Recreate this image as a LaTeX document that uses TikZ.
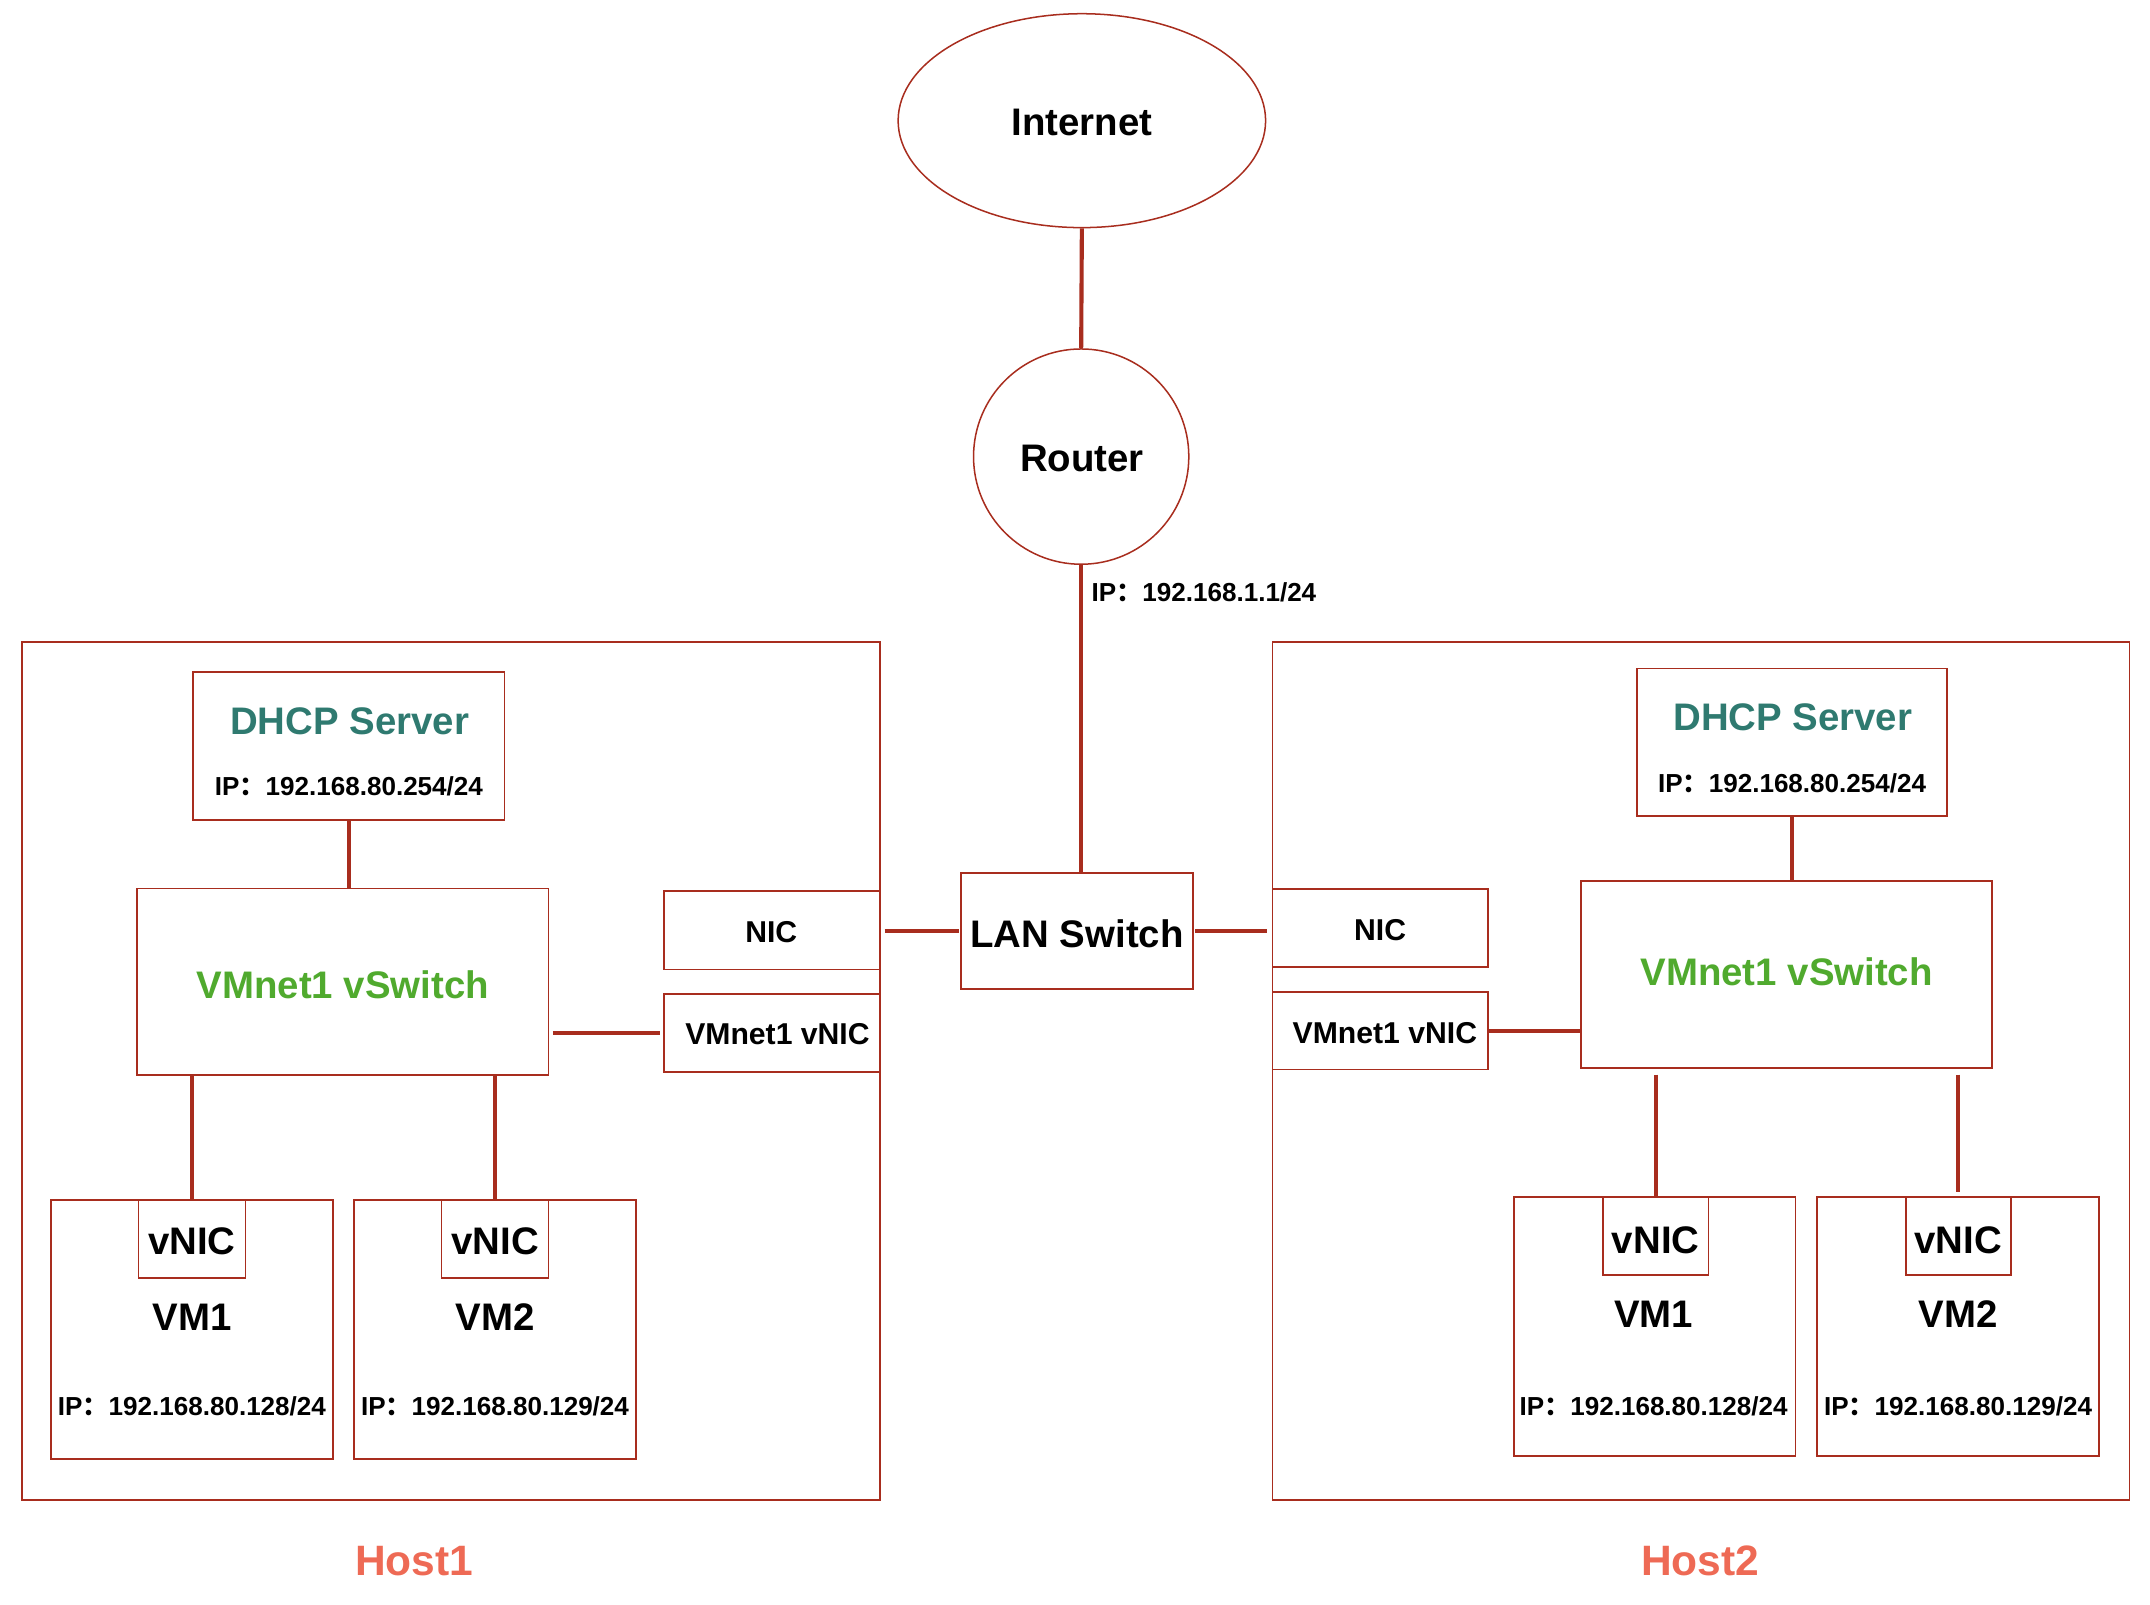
\documentclass[tikz,border=0pt]{standalone}
\usepackage{fontspec}
\setmainfont{Liberation Sans}
\newfontfamily\cjk{Noto Sans CJK SC}
\usetikzlibrary{fit,shapes.geometric}
\definecolor{bc}{RGB}{168,45,30}
\definecolor{teal}{RGB}{47,122,112}
\definecolor{vgreen}{RGB}{80,170,46}
\definecolor{coral}{RGB}{238,106,85}
\newcommand{\ipc}{{\cjk\bfseries ：}}
\tikzset{
  bx/.style={draw=bc, line width=1.3pt, inner sep=0pt, rectangle},
  conn/.style={draw=bc, line width=3pt},
  big/.style={font=\fontsize{28}{32}\selectfont\bfseries, anchor=base, inner sep=0pt},
  mid/.style={font=\fontsize{22}{26}\selectfont\bfseries, anchor=base, inner sep=0pt},
  sml/.style={font=\fontsize{19}{22}\selectfont\bfseries, anchor=base, inner sep=0pt},
  hostl/.style={font=\fontsize{31}{35}\selectfont\bfseries, text=coral, anchor=base, inner sep=0pt},
}
\newcommand{\bxn}[5]{\node[bx, fit={(#2,#3)(#4,#5)}] (#1) {};}
\begin{document}
\begin{tikzpicture}[x=1pt,y=-1pt]
\useasboundingbox (0,0) rectangle (1568,1169.8);
% top
\node[draw=bc, line width=1.1pt, ellipse, minimum width=268pt, minimum height=156pt, inner sep=0pt] (inet) at (789,88) {};
\node[draw=bc, line width=1.1pt, circle, minimum size=157pt, inner sep=0pt] (router) at (788.5,333) {};
\node[big] (tinet) at (789,99) {Internet};
\node[big] (trouter) at (789,344) {Router};
\node[sml, anchor=base west] (trip) at (796,439) {IP\ipc 192.168.1.1/24};
\bxn{lan}{701}{636.5}{870}{721}
\node[big] (tlan) at (785.5,691) {LAN Switch};
% hosts
\bxn{host1}{16}{468}{641.5}{1094}
\bxn{host2}{928}{468}{1553}{1094}
\node[hostl] (thost1) at (302,1149) {Host1};
\node[hostl] (thost2) at (1240,1149) {Host2};
% host1 inner
\bxn{dhcp1}{141}{490}{368}{598}
\node[big, text=teal] (tdhcp1) at (255,536) {DHCP Server};
\node[sml] (tdip1) at (254.5,580) {IP\ipc 192.168.80.254/24};
\bxn{vsw1}{100}{648}{400}{784}
\node[big, text=vgreen] (tvsw1) at (250,728) {VMnet1 vSwitch};
\bxn{nic1}{484}{650}{641.5}{707}
\node[mid] (tnic1) at (562.5,687) {NIC};
\bxn{vnb1}{484}{725}{641.5}{782}
\node[mid] (tvnb1) at (567,762) {VMnet1 vNIC};
\bxn{vm11}{37}{875}{243}{1064}
\bxn{vn11}{101}{875}{179}{932}
\node[big] (tvn11) at (140,915) {vNIC};
\node[big] (tvm11) at (140,970) {VM1};
\node[sml] (tip11) at (140,1032) {IP\ipc 192.168.80.128/24};
\bxn{vm12}{258}{875}{464}{1064}
\bxn{vn12}{322}{875}{400}{932}
\node[big] (tvn12) at (361,915) {vNIC};
\node[big] (tvm12) at (361,970) {VM2};
\node[sml] (tip12) at (361,1032) {IP\ipc 192.168.80.129/24};
% host2 inner
\bxn{dhcp2}{1194}{487.5}{1420}{595}
\node[big, text=teal] (tdhcp2) at (1307.5,533) {DHCP Server};
\node[sml] (tdip2) at (1307,578) {IP\ipc 192.168.80.254/24};
\bxn{vsw2}{1153}{642.5}{1453}{779}
\node[big, text=vgreen] (tvsw2) at (1303,719) {VMnet1 vSwitch};
\bxn{nic2}{928}{648.5}{1085}{705.5}
\node[mid] (tnic2) at (1006.5,686) {NIC};
\bxn{vnb2}{928}{723.5}{1085}{780}
\node[mid] (tvnb2) at (1010,761) {VMnet1 vNIC};
\bxn{vm21}{1104}{873}{1309.5}{1062}
\bxn{vn21}{1169}{873}{1246}{930}
\node[big] (tvn21) at (1207.5,914) {vNIC};
\node[big] (tvm21) at (1206,968) {VM1};
\node[sml] (tip21) at (1206,1032) {IP\ipc 192.168.80.128/24};
\bxn{vm22}{1325}{873}{1531}{1062}
\bxn{vn22}{1390}{873}{1466.5}{930}
\node[big] (tvn22) at (1428,914) {vNIC};
\node[big] (tvm22) at (1428,968) {VM2};
\node[sml] (tip22) at (1428,1032) {IP\ipc 192.168.80.129/24};
% connectors
\draw[conn] (inet.south) -- (router.north);
\draw[conn] (router.south) -- (router.south |- lan.north);
\draw[conn, shorten <=3pt, shorten >=1pt] (lan.west -| nic1.east) -- (lan.west);
\draw[conn, shorten >=3pt, shorten <=1pt] (lan.east) -- (lan.east -| nic2.west);
\draw[conn] (dhcp1.south) -- (dhcp1.south |- vsw1.north);
\draw[conn] (dhcp2.south) -- (dhcp2.south |- vsw2.north);
\draw[conn, shorten <=2.5pt, shorten >=2pt] (vsw1.east |- vnb1.east) -- (vnb1.west);
\draw[conn] (vnb2.east) -- (vnb2.east -| vsw2.west);
\draw[conn] (vsw1.south -| vn11.north) -- (vn11.north);
\draw[conn] (vsw1.south -| vn12.north) -- (vn12.north);
\draw[conn, shorten <=4pt] (vsw2.south -| vn21.north) -- (vn21.north);
\draw[conn, shorten <=4pt, shorten >=3pt] (vsw2.south -| vn22.north) -- (vn22.north);
\end{tikzpicture}
\end{document}
